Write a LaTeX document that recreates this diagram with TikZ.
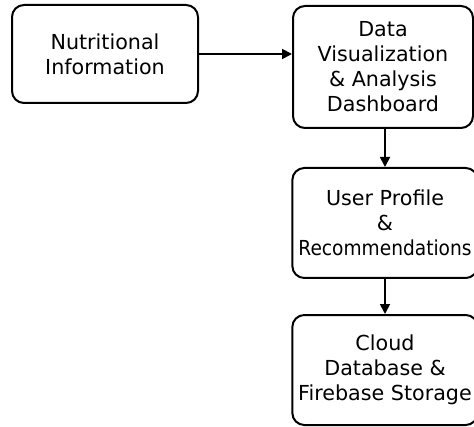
\documentclass[tikz,border=0pt]{standalone}
\usepackage{graphicx}
\usepackage{fontspec}
\setmainfont{DejaVu Sans}
\usetikzlibrary{arrows.meta}

\tikzset{
  flowbox/.style={draw, line width=1.5pt, rounded corners=9pt, align=center,
    font=\fontsize{15.5}{18.75}\selectfont, inner sep=0pt},
  flowarrow/.style={line width=1.3pt, -{Triangle[length=7.5pt,width=7.5pt]}}
}

\begin{document}
\begin{tikzpicture}[x=0.75pt,y=0.75pt,yscale=-1,xscale=1]
\useasboundingbox (0,0) rectangle (474,427);

% Text Node
\node [flowbox, minimum width=139.5pt, minimum height=73.5pt] (nutrition) at (105,54) {Nutritional\\Information};
% Text Node
\node [flowbox, minimum width=135pt, minimum height=91.5pt] (dashboard) at (383,67) {Data\\Visualization\\\& Analysis\\Dashboard};
% Text Node
\node [flowbox, minimum width=139pt, minimum height=82.5pt] (profile) at (385,223) {User Profile\\\&\\\scalebox{0.9}[1]{Recommendations}};
% Text Node
\node [flowbox, minimum width=139pt, minimum height=82.5pt] (cloud) at (385,370) {Cloud\\Database \&\\Firebase Storage};

%Straight Lines
\draw [flowarrow] (nutrition.east) -- (nutrition.east -| dashboard.west);
%Straight Lines
\draw [flowarrow] (dashboard.south -| profile.north) -- (profile.north);
%Straight Lines
\draw [flowarrow] (profile.south) -- (cloud.north);

\end{tikzpicture}
\end{document}
